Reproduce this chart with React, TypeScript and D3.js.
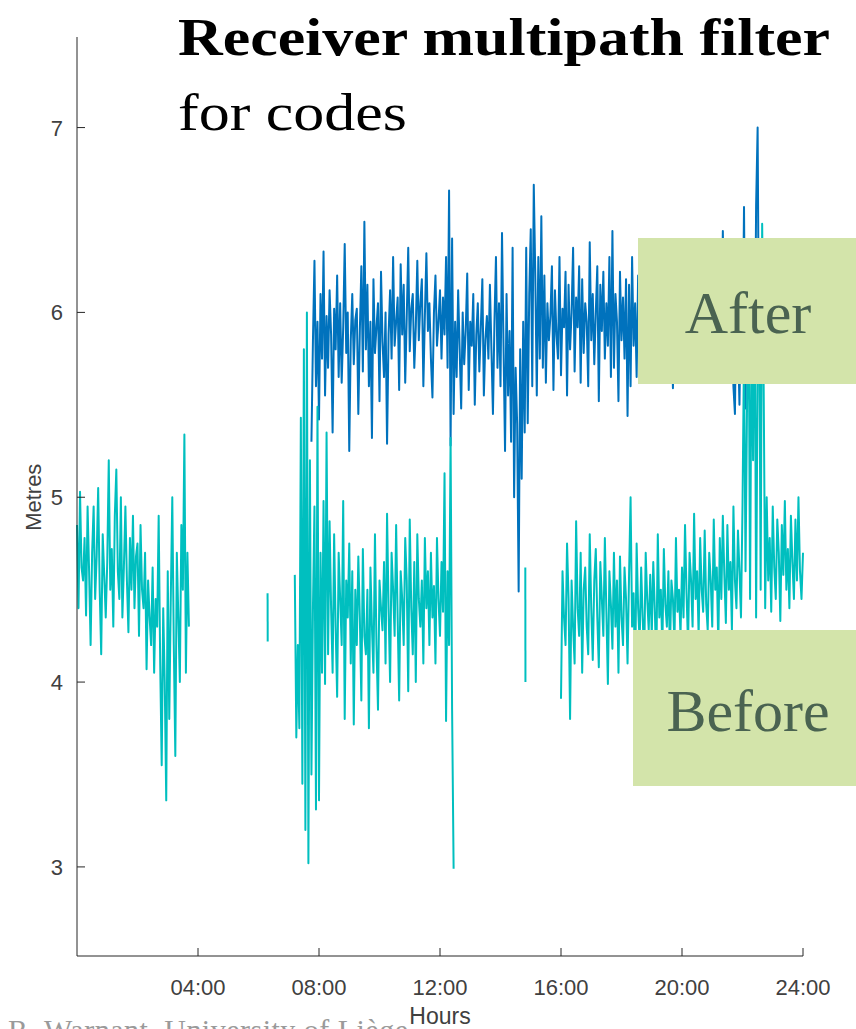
import * as d3 from "d3";

// axis ticks
const hourTicks = [4, 8, 12, 16, 20, 24];
const hourLabels = ["04:00", "08:00", "12:00", "16:00", "20:00", "24:00"];
const metreTicks = [3, 4, 5, 6, 7];

// sampling interval of the series, in hours (3 min)
const step = 0.05;

// "After" (filtered) series, 07:45 -> 24:00, one row per hour
const afterStart = 7.75;
const afterValues = [
  5.30, 5.85, 6.28, 5.60, 5.95, 5.42, 6.10, 5.75, 6.33, 5.55, 5.98, 5.70, 6.12, 5.88, 5.35, 6.02, 5.80, 6.20, 5.65, 6.05,
  5.62, 5.92, 6.37, 5.78, 6.00, 5.25, 5.85, 6.10, 5.72, 5.96, 6.02, 5.45, 5.90, 6.25, 5.68, 6.49, 5.80, 6.15, 5.60, 5.95,
  5.32, 6.18, 5.78, 5.92, 6.05, 5.52, 6.22, 5.84, 5.65, 6.00, 5.29, 5.88, 6.12, 5.75, 6.30, 5.82, 5.95, 6.08, 5.58, 6.26,
  5.88, 6.15, 5.62, 5.97, 6.35, 5.79, 6.02, 6.10, 5.70, 5.92, 6.28, 5.85, 6.05, 6.18, 5.60, 5.98, 6.32, 5.90, 6.05, 5.75,
  5.54, 6.00, 6.20, 5.82, 5.95, 6.12, 5.75, 6.08, 5.88, 6.30, 5.70, 6.66, 5.28, 6.40, 5.45, 5.95, 5.65, 6.12, 5.80, 5.48,
  6.00, 5.72, 5.90, 6.21, 5.58, 5.95, 5.82, 6.10, 5.50, 5.88, 6.05, 5.68, 5.92, 6.18, 5.55, 5.85, 5.98, 5.75, 6.15, 5.80,
  5.45, 5.95, 6.30, 5.70, 6.05, 5.60, 6.43, 5.82, 5.25, 6.10, 5.55, 5.90, 5.30, 6.35, 5.00, 5.70, 5.40, 4.49, 5.80, 5.10,
  5.95, 5.35, 6.35, 5.40, 6.10, 6.45, 5.60, 6.69, 6.20, 5.55, 6.30, 5.75, 6.52, 5.70, 6.20, 5.62, 6.05, 5.85, 5.98, 6.25,
  5.58, 6.12, 5.88, 5.75, 6.30, 5.66, 6.02, 5.92, 6.22, 5.55, 6.15, 5.80, 6.00, 6.35, 5.68, 6.08, 5.92, 6.25, 5.62, 6.18,
  5.78, 6.05, 5.95, 5.60, 6.38, 5.85, 6.10, 5.72, 6.00, 6.25, 5.52, 6.15, 5.90, 6.22, 5.75, 6.05, 5.82, 6.30, 5.65, 6.44,
  5.70, 6.10, 5.95, 5.52, 6.22, 5.85, 6.08, 5.75, 6.18, 5.44, 6.15, 5.60, 6.30, 5.82, 6.05, 5.65, 6.20, 5.90, 6.12, 5.78,
  5.70, 6.25, 5.85, 6.08, 5.95, 5.68, 6.30, 5.92, 6.02, 5.75, 6.18, 5.80, 6.28, 5.72, 6.05, 5.88, 6.22, 5.66, 6.12, 5.59,
  5.95, 6.32, 5.78, 6.10, 5.90, 5.70, 6.25, 5.85, 6.05, 5.68, 6.30, 5.90, 6.00, 6.18, 5.75, 6.08, 5.82, 6.22, 5.65, 6.12,
  5.88, 6.15, 5.72, 6.05, 6.28, 5.80, 5.98, 6.10, 5.70, 6.25, 5.92, 5.78, 6.44, 5.82, 6.15, 5.72, 6.05, 5.90, 6.28, 5.60,
  5.45, 6.20, 5.85, 5.50, 6.10, 5.70, 6.57, 5.48, 6.35, 5.55, 6.10, 5.62, 6.30, 5.50, 6.58, 7.00, 5.62, 6.25, 5.80, 6.15,
  5.72, 6.28, 5.85, 6.05, 5.68, 6.22, 5.90, 6.12, 5.75, 6.30, 5.88, 6.08, 5.78, 6.02, 5.95, 6.20, 5.70, 6.15, 5.85, 6.05,
  5.80, 6.18, 5.92, 5.75, 6.10, 5.95,
];

// "Before" (raw) series, in the pieces where data exist
const beforeStart1 = 0;
const beforeValues1 = [
  4.85, 4.40, 5.03, 4.62, 4.55, 4.78, 4.36, 4.95, 4.60, 4.20, 4.70, 4.95, 4.45, 4.68, 5.05, 4.50, 4.15, 4.80, 4.58, 4.35,
  4.65, 5.20, 4.50, 4.72, 4.30, 4.90, 5.15, 4.60, 4.45, 5.00, 4.35, 4.62, 4.95, 4.55, 4.27, 4.78, 4.50, 4.90, 4.40, 4.68,
  4.75, 4.25, 4.85, 4.50, 4.40, 4.70, 4.07, 4.55, 4.35, 4.20, 4.62, 4.05, 4.45, 4.30, 4.90, 4.10, 3.55, 4.40, 4.00, 3.36,
  4.60, 3.80, 4.45, 5.00, 4.20, 3.60, 4.70, 4.35, 4.00, 4.85, 4.50, 5.34, 4.05, 4.70, 4.30,
];

const beforeStart2 = 6.3;
const beforeValues2 = [4.48, 4.22];

const beforeStart3 = 7.2;
const beforeValues3 = [
  4.58, 3.70, 4.20, 3.75, 5.43, 3.45, 5.80, 3.20, 6.00, 3.02, 5.20, 3.50, 4.40, 4.95, 3.31, 5.49, 3.36, 4.70, 4.05, 4.98,
  3.99, 5.35, 4.15, 4.87, 4.40, 4.05, 4.80, 4.30, 3.92, 4.70, 4.45, 4.20, 4.98, 3.80, 4.55, 4.35, 4.75, 4.10, 4.60, 3.77,
  4.50, 4.20, 4.68, 4.35, 3.90, 4.72, 4.25, 4.15, 4.50, 3.75, 4.62, 4.30, 4.05, 4.80, 4.20, 3.85, 4.55, 4.40, 4.28, 4.65,
  4.10, 4.91, 4.40, 4.00, 4.70, 4.50, 4.25, 4.85, 4.35, 3.90, 4.60, 4.45, 4.20, 4.78, 4.55, 3.95, 4.88, 4.40, 4.15, 4.65,
  4.00, 4.80, 4.45, 4.30, 4.55, 4.10, 4.78, 4.40, 4.60, 4.20, 4.70, 4.35, 4.52, 4.10, 4.78, 4.45, 4.25, 4.65, 4.38, 5.13,
  3.79, 4.60, 4.20, 5.32, 3.85, 2.99,
];

const beforeStart4 = 14.82;
const beforeValues4 = [4.62, 4.0];

const beforeStart5 = 16.0;
const beforeValues5 = [
  3.91, 4.60, 4.35, 4.20, 4.75, 4.45, 3.80, 4.55, 4.30, 4.10, 4.87, 4.40, 4.25, 4.70, 4.05, 4.50, 4.62, 4.30, 4.15, 4.80,
  4.40, 4.12, 4.55, 4.72, 4.35, 4.08, 4.65, 4.45, 4.25, 4.78, 4.38, 3.99, 4.60, 4.42, 4.18, 4.70, 4.30, 4.55, 4.05, 4.68,
  4.35, 4.20, 4.62, 4.45, 4.10, 4.58, 5.00, 4.30, 4.48, 4.00, 4.75, 4.40, 4.22, 4.62, 4.35, 4.12, 4.70, 4.45, 4.28, 4.58,
  4.25, 4.65, 4.40, 4.08, 4.80, 4.35, 4.50, 4.18, 4.72, 4.42, 4.30, 4.60, 4.15, 4.55, 4.45, 4.20, 4.78, 4.38, 4.50, 4.25,
  4.62, 4.35, 4.85, 4.48, 4.20, 4.70, 4.55, 4.30, 4.91, 4.45, 4.60, 4.25, 4.78, 4.50, 4.38, 4.82, 4.42, 4.28, 4.70, 4.55,
  4.30, 4.88, 4.50, 4.62, 4.20, 4.78, 4.45, 4.90, 4.58, 4.32, 4.85, 4.50, 4.65, 4.28, 4.95, 4.55, 4.40, 4.82, 4.60, 4.35,
  4.95, 5.80, 4.60, 5.50, 6.20, 4.45, 5.95, 5.20, 6.35, 4.35, 5.70, 6.10, 4.50, 6.48, 5.60,
  4.40, 5.00, 4.55, 4.78, 4.38, 4.95, 4.62, 4.45, 4.88, 4.70, 4.33, 4.85, 4.58, 4.98, 4.50, 4.72, 4.40, 4.90, 4.65, 4.45,
  4.88, 4.55, 5.00, 4.60, 4.45, 4.70,
];

const W = 856;
const H = 1029;
const plot = { left: 77, right: 803, top: 37, bottom: 956 };

const x = d3.scaleLinear().domain([0, 24]).range([plot.left, plot.right]);
const y = d3.scaleLinear().domain([2.518, 7.49]).range([plot.bottom, plot.top]);

type Seg = { start: number; dt: number; values: number[] };

const afterSegs: Seg[] = [{ start: afterStart, dt: step, values: afterValues }];
const beforeSegs: Seg[] = [
  { start: beforeStart1, dt: step, values: beforeValues1 },
  { start: beforeStart2, dt: 0.005, values: beforeValues2 },
  { start: beforeStart3, dt: step, values: beforeValues3 },
  { start: beforeStart4, dt: 0.005, values: beforeValues4 },
  { start: beforeStart5, dt: step, values: beforeValues5 },
];

const line = d3
  .line<[number, number]>()
  .x((d) => x(d[0]))
  .y((d) => y(d[1]));

function segPath(s: Seg) {
  const pts: [number, number][] = s.values.map((v, i) => [s.start + i * s.dt, v]);
  return line(pts) || "";
}

const tickFont = "'Liberation Sans', Arial, sans-serif";
const serif = "'Liberation Serif', 'Times New Roman', serif";
const axisColor = "#262626";
const labelColor = "#404040";

export default function App() {
  return (
    <svg
      width={W}
      height={H}
      style={{ position: "absolute", left: 0, top: 0, background: "#fff" }}
    >
      {/* series */}
      {afterSegs.map((s, i) => (
        <path
          key={"a" + i}
          d={segPath(s)}
          fill="none"
          stroke="#0072BD"
          strokeWidth={2}
          strokeLinejoin="round"
        />
      ))}
      {beforeSegs.map((s, i) => (
        <path
          key={"b" + i}
          d={segPath(s)}
          fill="none"
          stroke="#00BFBF"
          strokeWidth={2}
          strokeLinejoin="round"
        />
      ))}

      {/* axes */}
      <line x1={plot.left} x2={plot.left} y1={plot.top} y2={plot.bottom} stroke={axisColor} strokeWidth={1} />
      <line x1={plot.left} x2={plot.right} y1={plot.bottom} y2={plot.bottom} stroke={axisColor} strokeWidth={1} />
      {metreTicks.map((t) => (
        <g key={"y" + t}>
          <line x1={plot.left} x2={plot.left + 8} y1={y(t)} y2={y(t)} stroke={axisColor} />
          <text
            x={plot.left - 14}
            y={y(t) + 8}
            textAnchor="end"
            fontFamily={tickFont}
            fontSize={22}
            fill={labelColor}
          >
            {t}
          </text>
        </g>
      ))}
      {hourTicks.map((t, i) => (
        <g key={"x" + t}>
          <line x1={x(t)} x2={x(t)} y1={plot.bottom} y2={plot.bottom - 8} stroke={axisColor} />
          <text
            x={x(t)}
            y={plot.bottom + 39}
            textAnchor="middle"
            fontFamily={tickFont}
            fontSize={22}
            fill={labelColor}
          >
            {hourLabels[i]}
          </text>
        </g>
      ))}
      <text
        x={(plot.left + plot.right) / 2}
        y={1024}
        textAnchor="middle"
        fontFamily={tickFont}
        fontSize={23}
        fill={labelColor}
      >
        Hours
      </text>
      <text
        transform={`translate(41, ${y(5)}) rotate(-90)`}
        textAnchor="middle"
        fontFamily={tickFont}
        fontSize={22}
        fill={labelColor}
      >
        Metres
      </text>

      {/* title */}
      <text x={178} y={55} fontFamily={serif} fontWeight="bold" fontSize={52} fill="#000" textLength={652} lengthAdjust="spacingAndGlyphs">
        Receiver multipath filter
      </text>
      <text x={178} y={130} fontFamily={serif} fontSize={52} fill="#000" textLength={229} lengthAdjust="spacingAndGlyphs">
        for codes
      </text>

      {/* labels */}
      <rect x={638} y={238} width={218} height={146} fill="#D3E4AA" />
      <text x={748} y={333} textAnchor="middle" fontFamily={serif} fontSize={60} fill="#4A6351">
        After
      </text>
      <rect x={633} y={630} width={223} height={156} fill="#D3E4AA" />
      <text x={748} y={731} textAnchor="middle" fontFamily={serif} fontSize={60} fill="#4A6351">
        Before
      </text>

      {/* credit line, cut by the page edge as in the original slide */}
      <text x={8} y={1040} fontFamily={serif} fontSize={30} fill="#9a9a9a" textLength={400} lengthAdjust="spacing">
        R. Warnant, University of Liège
      </text>
    </svg>
  );
}
